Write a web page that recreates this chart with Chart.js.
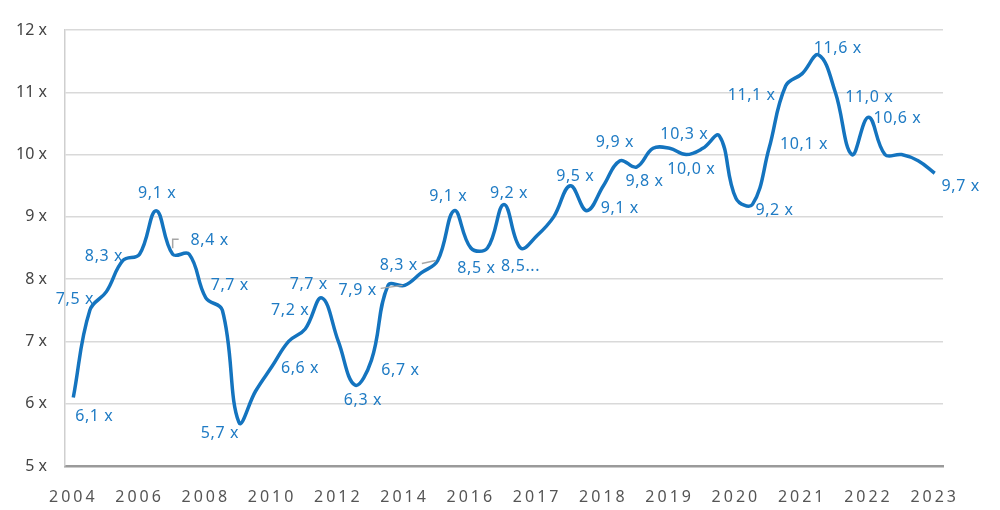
<!DOCTYPE html>
<html>
<head>
<meta charset="utf-8">
<script src="https://cdn.jsdelivr.net/npm/chart.js@4.4.0/dist/chart.umd.min.js"></script>
<style>
  html, body { margin: 0; padding: 0; background: #fff; }
  #wrap { width: 1000px; height: 510px; }
</style>
</head>
<body>
<div id="wrap"><canvas id="chartMultiple"></canvas></div>
<script>
// axis labels, one every 4 data points
const yearTicks = ['2004', '2006', '2008', '2010', '2012', '2014', '2016',
    '2017', '2018', '2019', '2020', '2021', '2022', '2023'];
const stepsPerTick = 4;

// valuation multiple (x)
const multiples = [
    6.1, 7.5, 7.8, 8.3, 8.4, 9.1, 8.4, 8.4, 7.7, 7.5,
    5.7, 6.2, 6.6, 7.0, 7.2, 7.7, 7.0, 6.3, 6.7, 7.9,
    7.9, 8.1, 8.3, 9.1, 8.5, 8.5, 9.2, 8.5, 8.7, 9.0,
    9.5, 9.1, 9.5, 9.9, 9.8, 10.1, 10.1, 10.0, 10.1, 10.3,
    9.3, 9.2, 10.1, 11.1, 11.3, 11.6, 11.0, 10.0, 10.6, 10.0,
    10.0, 9.9, 9.7];

// which points carry a value label, and the label text
const labelIndex = [0, 1, 3, 5, 6, 8, 10, 12, 14, 15, 17, 18, 20, 22, 23, 25,
    26, 27, 30, 31, 33, 34, 37, 39, 41, 42, 43, 45, 46, 48, 52];
const labelTexts = ['6,1 x', '7,5 x', '8,3 x', '9,1 x', '8,4 x', '7,7 x', '5,7 x',
    '6,6 x', '7,2 x', '7,7 x', '6,3 x', '6,7 x', '7,9 x', '8,3 x', '9,1 x', '8,5 x',
    '9,2 x', '8,5...', '9,5 x', '9,1 x', '9,9 x', '9,8 x', '10,0 x', '10,3 x',
    '9,2 x', '10,1 x', '11,1 x', '11,6 x', '11,0 x', '10,6 x', '9,7 x'];

const categories = multiples.map((v, i) =>
    i % stepsPerTick === 0 ? yearTicks[i / stepsPerTick] : '');

// label placement relative to its point (px), plus optional leader line
const labelPlacement = {
    0: [21, 19], 1: [-15, -11], 3: [-19, -4], 5: [1, -17], 6: [37, -14, 'elbow'],
    8: [24, -12], 10: [-19, 11], 12: [28, 2], 14: [-15, -19], 15: [-13, -13],
    17: [8, 15], 18: [29, 10], 20: [-47, 5, 'line'], 22: [-39, 5, 'line'],
    23: [-6, -14], 25: [-11, 20], 26: [5, -11], 27: [0, 18], 30: [5, -9],
    31: [33, -2], 33: [-5, -18], 34: [8, 14], 37: [5, 15], 39: [-35, -1],
    41: [22, 6], 42: [35, -4], 43: [-34, 9], 45: [19, -6], 46: [34, 5],
    48: [29, 1], 52: [26, 13]
};

const valueLabels = {
    id: 'valueLabels',
    afterDatasetsDraw(chart) {
        const ctx = chart.ctx;
        const meta = chart.getDatasetMeta(0);
        ctx.save();
        ctx.font = '16px "Noto Sans"';
        ctx.letterSpacing = '0.6px';
        ctx.textAlign = 'center';
        ctx.textBaseline = 'middle';
        labelIndex.forEach((idx, k) => {
            const pt = meta.data[idx];
            const p = labelPlacement[idx] || [0, -14];
            const lx = pt.x + p[0];
            const ly = pt.y + p[1];
            const w = ctx.measureText(labelTexts[k]).width;
            if (p[2]) {
                ctx.strokeStyle = '#a6a6a6';
                ctx.lineWidth = 1.5;
                ctx.beginPath();
                if (p[2] === 'elbow') {
                    ctx.moveTo(pt.x, pt.y - 6);
                    ctx.lineTo(pt.x, ly - 1);
                    ctx.lineTo(pt.x + 6, ly - 1);
                } else {
                    ctx.moveTo(lx + w / 2 + 4, ly - 2);
                    ctx.lineTo(pt.x - 2, pt.y);
                }
                ctx.stroke();
            }
            ctx.fillStyle = '#1f7bc4';
            ctx.fillText(labelTexts[k], lx, ly);
        });
        ctx.restore();
        // x axis labels are drawn after this (ticks.z = 1), spaced out
        ctx.letterSpacing = '3px';
    },
    afterDraw(chart) {
        chart.ctx.letterSpacing = '0px';
    }
};

const data = {
    labels: categories,
    datasets: [
        {
            label: 'Multiple',
            data: multiples,
            borderColor: '#1474bf',
            borderWidth: 3.5,
            tension: 0.4,
            pointRadius: 0,
            fill: false
        }
    ]
};

const config = {
    type: 'line',
    data: data,
    plugins: [valueLabels],
    options: {
        responsive: true,
        maintainAspectRatio: false,
        animation: false,
        layout: {
            padding: { left: 16, right: 57, top: 30, bottom: 0 }
        },
        plugins: {
            legend: { display: false },
            tooltip: { enabled: false }
        },
        scales: {
            x: {
                offset: true,
                grid: { display: false },
                border: { color: '#9a9a9a', width: 2.5 },
                afterFit: (scale) => { scale.height = 44; },
                ticks: {
                    z: 1,
                    autoSkip: false,
                    maxRotation: 0,
                    padding: 14,
                    color: '#555',
                    font: { family: 'Noto Sans', size: 16 },
                    callback: function (value, index) {
                        return categories[index] || null;
                    }
                }
            },
            y: {
                min: 5,
                max: 12,
                grid: { color: '#d9d9d9', lineWidth: 1.5, drawTicks: false },
                border: { color: '#cfcfcf', width: 1.5 },
                afterFit: (scale) => { scale.width = 49; },
                ticks: {
                    stepSize: 1,
                    padding: 18,
                    color: '#444',
                    font: { family: 'Noto Sans', size: 16 },
                    callback: (v) => v + ' x'
                }
            }
        }
    }
};

new Chart(document.getElementById('chartMultiple'), config);
</script>
</body>
</html>
